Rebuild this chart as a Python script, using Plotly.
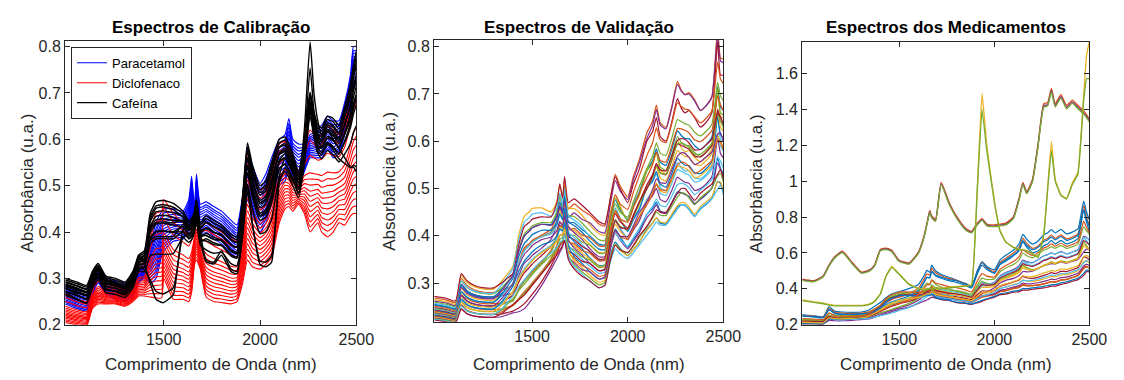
import plotly.graph_objects as go

# ---------------- data ----------------
# wavelength grid (nm)
W = [990, 1050, 1100, 1130, 1160,
     1200, 1250, 1300, 1340, 1370,
     1400, 1430, 1460, 1490, 1500,
     1550, 1600, 1630, 1645, 1660,
     1670, 1690, 1720, 1760, 1800,
     1850, 1880, 1910, 1935, 1960,
     2000, 2030, 2060, 2100, 2130,
     2150, 2170, 2200, 2230, 2260,
     2280, 2300, 2320, 2350, 2380,
     2410, 2440, 2470, 2485, 2500]

# --- Calibration: Cafeína (black) envelopes
CAF_HI = [.300, .292, .285, .315, .332,
          .305, .300, .292, .315, .350,
          .360, .440, .465, .468, .468,
          .462, .445, .425, .430, .445,
          .470, .420, .435, .425, .415,
          .395, .390, .480, .592, .545,
          .500, .510, .550, .600, .605,
          .590, .570, .530, .600, .700,
          .660, .630, .625, .650, .645,
          .630, .670, .720, .760, .790]
CAF_LO = [.280, .265, .255, .300, .325,
          .290, .285, .280, .300, .350,
          .330, .290, .255, .248, .248,
          .265, .405, .410, .420, .440,
          .470, .400, .340, .335, .360,
          .320, .315, .400, .500, .420,
          .330, .325, .335, .520, .560,
          .545, .530, .520, .620, .810,
          .700, .640, .610, .620, .600,
          .580, .560, .540, .540, .530]
CAF_F = [0.0, 0.0, 0.02, 0.04, 0.06, 0.08, 0.10, 0.12, 0.15, 0.18, 0.22, 0.28, 0.35, 0.85, 1.0]
CAF_S = [1.0, 0.97, 0.99, 0.95, 0.98, 0.93, 0.96, 0.91, 0.97, 0.94, 0.92, 0.96, 0.90, 0.95, 1.0]

# --- Calibration: Paracetamol (blue) envelopes
PAR_HI = [.285, .275, .270, .300, .320,
          .300, .295, .290, .300, .320,
          .330, .370, .420, .445, .450,
          .450, .445, .470, .520, .450,
          .525, .460, .465, .455, .445,
          .425, .415, .480, .580, .545,
          .505, .525, .560, .600, .610,
          .645, .600, .590, .590, .610,
          .615, .625, .630, .650, .640,
          .640, .680, .740, .800, .800]
PAR_LO = [.245, .235, .230, .265, .290,
          .265, .255, .250, .260, .290,
          .300, .290, .300, .350, .360,
          .380, .385, .400, .430, .400,
          .440, .390, .400, .385, .375,
          .355, .345, .400, .470, .440,
          .400, .420, .460, .500, .510,
          .540, .520, .500, .530, .560,
          .560, .560, .560, .580, .560,
          .570, .610, .660, .710, .720]
PAR_F = [0.0, 0.08, 0.15, 0.22, 0.30, 0.38, 0.45, 0.52, 0.60, 0.68, 0.75, 0.83, 0.90, 1.0]

# --- Calibration: Diclofenaco (red) envelopes
DIC_HI = [.265, .255, .250, .285, .310,
          .290, .285, .280, .300, .330,
          .335, .400, .440, .445, .470,
          .440, .420, .410, .420, .435,
          .455, .410, .420, .410, .400,
          .385, .380, .470, .570, .530,
          .490, .500, .540, .590, .595,
          .580, .560, .530, .580, .620,
          .610, .600, .610, .630, .620,
          .610, .640, .700, .740, .760]
DIC_LO = [.205, .200, .198, .235, .245,
          .245, .245, .240, .250, .262,
          .262, .260, .258, .258, .300,
          .255, .255, .250, .270, .330,
          .340, .320, .260, .250, .248,
          .245, .250, .290, .340, .325,
          .320, .330, .345, .420, .450,
          .455, .445, .460, .440, .400,
          .410, .420, .400, .390, .400,
          .420, .415, .435, .440, .440]
DIC_F = [0.0, 0.05, 0.10, 0.15, 0.20, 0.25, 0.30, 0.35, 0.40, 0.46, 0.52, 0.58, 0.75, 0.90, 1.0]

# --- Validation envelopes
VAL_HI = [.272, .268, .262, .320, .305,
          .295, .290, .290, .300, .310,
          .320, .380, .420, .430, .435,
          .440, .440, .470, .510, .480,
          .525, .470, .478, .465, .450,
          .430, .425, .480, .525, .500,
          .470, .510, .540, .600, .620,
          .650, .610, .600, .640, .690,
          .670, .660, .665, .650, .630,
          .640, .660, .810, .740, .740]
VAL_LO = [.222, .218, .215, .245, .235,
          .230, .228, .228, .235, .245,
          .255, .265, .275, .290, .295,
          .320, .345, .360, .370, .380,
          .390, .350, .330, .315, .305,
          .290, .295, .350, .380, .370,
          .365, .380, .400, .420, .440,
          .455, .450, .450, .470, .490,
          .500, .500, .490, .475, .490,
          .500, .510, .530, .540, .520]
CROSS = [0, 0, 0, .005, .005,
         .005, .005, .005, .010, .015,
         .020, .030, .035, .035, .035,
         .030, .020, .015, .015, .010,
         .010, .005, 0, 0, -.005,
         -.005, -.005, -.010, -.015, -.015,
         -.020, -.025, -.030, -.030, -.035,
         -.040, -.040, -.040, -.045, -.050,
         -.050, -.050, -.050, -.050, -.045,
         -.045, -.045, -.050, -.050, -.050]
VAL_F = [0.66, 0.93, 0.86, 0.80, 0.75, 0.70, 1.0, 0.62, 0.58, 0.55, 0.52, 0.48, 0.45, 0.42,
         0.39, 0.36, 0.33, 0.30, 0.27, 0.24, 0.21, 0.18, 0.15, 0.12, 0.09, 0.06, 0.03, 0.0]
VAL_G = [0.0, -1.0, 1.2, -1.4, 0.6, 1.5, 0.0, 1.0, -1.5, 0.4, 1.4, -1.2, 0.8, -0.4,
         1.5, -1.3, 0.2, 1.2, -1.0, 0.6, -1.4, 1.3, -0.6, 1.0, -1.2, 0.4, 0.8, 0.0]

# --- Medicines envelopes (main group)
MED_HI = [.255, .250, .245, .300, .275,
          .270, .268, .270, .280, .300,
          .320, .345, .365, .375, .378,
          .395, .420, .470, .500, .490,
          .530, .500, .480, .465, .450,
          .430, .415, .500, .550, .520,
          .490, .540, .560, .590, .620,
          .670, .640, .610, .620, .650,
          .660, .680, .660, .680, .660,
          .670, .690, .850, .780, .730]
MED_LO = [.205, .205, .205, .225, .225,
          .225, .228, .232, .240, .255,
          .270, .290, .305, .315, .320,
          .325, .335, .340, .345, .350,
          .355, .345, .340, .335, .330,
          .325, .320, .335, .350, .360,
          .380, .400, .410, .420, .430,
          .445, .445, .450, .460, .470,
          .475, .480, .480, .490, .490,
          .500, .510, .540, .560, .560]
MED_F = [1.0, 0.95, 0.2, 0.3, 0.15, 0.4, 0.25, 0.9, 0.1, 0.35, 0.05, 0.5, 0.22, 0.0,
         0.85, 0.18, 0.28, 0.12, 0.45, 0.08, 0.32, 0.02, 0.6, 0.16]
MED_G = [0.2, -0.6, 1.0, -1.2, 1.4, -0.4, 0.8, -1.4, 1.2, 0.0, -1.0, 0.6, -1.5, 1.3,
         -0.8, 1.5, -0.2, 1.0, -1.3, 0.4, -0.6, 1.2, -1.0, 0.2]

# --- Medicines: distinct spectra
MED_A = [.450, .442, .470, .530, .575,
         .605, .545, .490, .500, .530,
         .615, .622, .610, .565, .555,
         .540, .600, .690, .760, .830,
         .800, .780, .985, .880, .800,
         .730, .715, .760, .785, .755,
         .750, .755, .760, .795, .900,
         .985, .935, 1.000, 1.200, 1.420,
         1.425, 1.505, 1.420, 1.470, 1.410,
         1.440, 1.410, 1.380, 1.360, 1.335]
MED_A_S = [1.008, 1.0, 0.995]
MED_A_COLORS = ['#D95319', '#7E2F8E', '#77AC30']
MED_B = [.335, .325, .317, .310, .305,
         .305, .305, .305, .312, .330,
         .370, .470, .520, .490, .480,
         .425, .400, .395, .400, .400,
         .400, .400, .400, .405, .410,
         .415, .420, .950, 1.400, 1.170,
         .880, .720, .660, .630, .620,
         .615, .610, .595, .575, .700,
         .950, 1.170, 1.000, .920, .900,
         .980, 1.040, 1.450, 1.570, 1.570]
MED_B2 = [.338, .328, .320, .313, .308,
          .308, .308, .308, .315, .333,
          .373, .473, .525, .493, .483,
          .428, .403, .398, .403, .403,
          .403, .403, .403, .408, .413,
          .418, .423, .960, 1.490, 1.200,
          .890, .725, .663, .633, .623,
          .618, .613, .598, .578, .705,
          .960, 1.220, 1.010, .925, .905,
          .990, 1.050, 1.480, 1.700, 1.780]

MATLAB = ['#0072BD', '#D95319', '#EDB120', '#7E2F8E', '#77AC30', '#4DBEEE', '#A2142F']
LEG_NAMES = ['Paracetamol', 'Diclofenaco', 'Cafeína']
TITLES = ['Espectros de Calibração', 'Espectros de Validação', 'Espectros dos Medicamentos']
XLABEL = 'Comprimento de Onda (nm)'
YLABEL = 'Absorbância (u.a.)'
X_TICKS = [1500, 2000, 2500]
Y1_TICKS = [0.2, 0.3, 0.4, 0.5, 0.6, 0.7, 0.8]
Y2_TICKS = [0.3, 0.4, 0.5, 0.6, 0.7, 0.8]
Y3_TICKS = [0.2, 0.4, 0.6, 0.8, 1.0, 1.2, 1.4, 1.6]
Y3_TEXT = ['0.2', '0.4', '0.6', '0.8', '1', '1.2', '1.4', '1.6']


def mix(lo, hi, f, g=0.0, s=1.0):
    return [s * (l + f * (h - l) + g * c) for l, h, c in zip(lo, hi, CROSS)]


# ---------------- figure ----------------
FW, FH = 1124, 380
fig = go.Figure()
SM = 0.5

# panel 1
for i, f in enumerate(PAR_F):
    fig.add_trace(go.Scatter(x=W, y=mix(PAR_LO, PAR_HI, f), mode='lines',
                             line=dict(color='#0000FF', width=1.1, shape='spline', smoothing=SM),
                             name=LEG_NAMES[0], showlegend=(i == 0),
                             xaxis='x', yaxis='y'))
for i, f in enumerate(DIC_F):
    fig.add_trace(go.Scatter(x=W, y=mix(DIC_LO, DIC_HI, f), mode='lines',
                             line=dict(color='#FF0000', width=1.1, shape='spline', smoothing=SM),
                             name=LEG_NAMES[1], showlegend=(i == 0),
                             xaxis='x', yaxis='y'))
for i, (f, s) in enumerate(zip(CAF_F, CAF_S)):
    fig.add_trace(go.Scatter(x=W, y=mix(CAF_HI, CAF_LO, f, 0.0, s), mode='lines',
                             line=dict(color='#000000', width=1.4, shape='spline', smoothing=SM),
                             name=LEG_NAMES[2], showlegend=(i == 0),
                             xaxis='x', yaxis='y'))

# panel 2
for i, (f, g) in enumerate(zip(VAL_F, VAL_G)):
    fig.add_trace(go.Scatter(x=W, y=mix(VAL_LO, VAL_HI, f, g), mode='lines',
                             line=dict(color=MATLAB[i % 7], width=1.2, shape='spline', smoothing=SM),
                             showlegend=False, xaxis='x2', yaxis='y2'))

# panel 3
for i, (f, g) in enumerate(zip(MED_F, MED_G)):
    fig.add_trace(go.Scatter(x=W, y=mix(MED_LO, MED_HI, f, g), mode='lines',
                             line=dict(color=MATLAB[i % 7], width=1.2, shape='spline', smoothing=SM),
                             showlegend=False, xaxis='x3', yaxis='y3'))
for s, c in zip(MED_A_S, MED_A_COLORS):
    fig.add_trace(go.Scatter(x=W, y=[s * v for v in MED_A], mode='lines',
                             line=dict(color=c, width=1.3, shape='spline', smoothing=SM),
                             showlegend=False, xaxis='x3', yaxis='y3'))
fig.add_trace(go.Scatter(x=W, y=MED_B2, mode='lines',
                         line=dict(color='#EDB120', width=1.3, shape='spline', smoothing=0.3),
                         showlegend=False, xaxis='x3', yaxis='y3'))
fig.add_trace(go.Scatter(x=W, y=MED_B, mode='lines',
                         line=dict(color='#77AC30', width=1.3, shape='spline', smoothing=0.3),
                         showlegend=False, xaxis='x3', yaxis='y3'))

PANELS = [  # left, right, top, bottom (px)
    (58, 354, 31, 324),
    (433, 727, 30, 321),
    (807, 1099, 32, 324),
]
YLAB_X = [20, 388, 761]
YRANGES = [[0.2, 0.812], [0.218, 0.814], [0.2, 1.775]]
YTICKS = [(Y1_TICKS, [f'{v:.1f}' for v in Y1_TICKS]),
          (Y2_TICKS, [f'{v:.1f}' for v in Y2_TICKS]),
          (Y3_TICKS, Y3_TEXT)]

INK = '#262626'
FONT = 'Liberation Sans, Arial, sans-serif'
axis_common = dict(showline=True, linecolor=INK, linewidth=1, mirror='ticks',
                   ticks='inside', ticklen=5, tickcolor=INK, tickwidth=1,
                   showgrid=False, zeroline=False,
                   tickfont=dict(family=FONT, size=16, color=INK))

layout = dict(width=FW, height=FH, margin=dict(l=0, r=0, t=0, b=0),
              paper_bgcolor='white', plot_bgcolor='white', annotations=[])
for k, ((l, r, t, b), yr, (tv, tt)) in enumerate(zip(PANELS, YRANGES, YTICKS)):
    sx = '' if k == 0 else str(k + 1)
    layout['xaxis' + sx] = dict(axis_common, domain=[l / FW, r / FW], range=[988, 2500],
                                tickvals=X_TICKS, ticktext=[str(v) for v in X_TICKS],
                                anchor='y' + sx)
    layout['yaxis' + sx] = dict(axis_common, domain=[1 - b / FH, 1 - t / FH], range=yr,
                                tickvals=tv, ticktext=tt, anchor='x' + sx)
    cx = (l + r) / 2
    layout['annotations'].append(dict(text='<b>' + TITLES[k] + '</b>', x=cx / FW, y=1 - 17 / FH,
                                      xref='paper', yref='paper', showarrow=False,
                                      xanchor='center', yanchor='middle',
                                      font=dict(family=FONT, size=17, color='#000000')))
    layout['annotations'].append(dict(text=XLABEL, x=cx / FW, y=1 - 365 / FH,
                                      xref='paper', yref='paper', showarrow=False,
                                      xanchor='center', yanchor='middle',
                                      font=dict(family=FONT, size=17, color=INK)))
    layout['annotations'].append(dict(text=YLABEL, x=YLAB_X[k] / FW, y=1 - ((t + b) / 2) / FH,
                                      xref='paper', yref='paper', showarrow=False, textangle=-90,
                                      xanchor='center', yanchor='middle',
                                      font=dict(family=FONT, size=17, color=INK)))

layout['legend'] = dict(x=64 / FW, y=1 - 37 / FH, xanchor='left', yanchor='top',
                        bgcolor='white', bordercolor=INK, borderwidth=1,
                        font=dict(family=FONT, size=13, color='#000000'),
                        tracegroupgap=0, itemwidth=30)
fig.update_layout(**layout)
fig.write_html('out.html')
